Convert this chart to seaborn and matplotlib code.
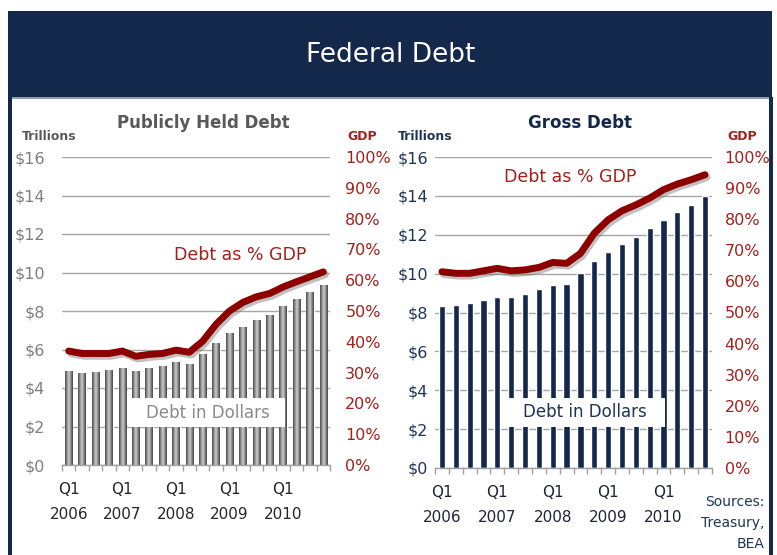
import numpy as np
import pandas as pd
import matplotlib
matplotlib.use("Agg")
import matplotlib.pyplot as plt
import matplotlib.patheffects as pe
from matplotlib.patches import Rectangle
import seaborn as sns

# ---------------- data ----------------
quarters = ["2006Q1", "2006Q2", "2006Q3", "2006Q4",
            "2007Q1", "2007Q2", "2007Q3", "2007Q4",
            "2008Q1", "2008Q2", "2008Q3", "2008Q4",
            "2009Q1", "2009Q2", "2009Q3", "2009Q4",
            "2010Q1", "2010Q2", "2010Q3", "2010Q4"]
tick_positions = [0, 4, 8, 12, 16]
tick_labels = ["Q1\n2006", "Q1\n2007", "Q1\n2008", "Q1\n2009", "Q1\n2010"]
dollar_ticks = [0, 2, 4, 6, 8, 10, 12, 14, 16]
dollar_labels = ["$0", "$2", "$4", "$6", "$8", "$10", "$12", "$14", "$16"]
pct_ticks = [0, 10, 20, 30, 40, 50, 60, 70, 80, 90, 100]
pct_labels = ["0%", "10%", "20%", "30%", "40%", "50%", "60%", "70%", "80%", "90%", "100%"]

public_debt = [4.87, 4.78, 4.83, 4.92, 5.04, 4.90, 5.04, 5.13, 5.34, 5.27,
               5.79, 6.35, 6.87, 7.18, 7.53, 7.81, 8.25, 8.60, 8.97, 9.36]
public_pct = [37.0, 36.2, 36.2, 36.2, 37.0, 35.3, 35.9, 36.2, 37.3, 36.6,
              40.2, 45.7, 50.0, 52.8, 54.6, 55.7, 57.8, 59.5, 61.1, 62.7]
gross_debt = [8.35, 8.40, 8.48, 8.64, 8.81, 8.81, 8.95, 9.19, 9.42, 9.47,
              10.02, 10.63, 11.10, 11.53, 11.89, 12.33, 12.76, 13.17, 13.55, 14.00]
gross_pct = [63.1, 62.6, 62.6, 63.4, 64.2, 63.4, 63.7, 64.5, 66.1, 65.8,
             69.0, 75.5, 79.8, 82.7, 84.6, 86.8, 89.5, 91.3, 92.7, 94.3]

# ---------------- style ----------------
NAVY = "#14284b"
RED_LINE = "#8c0000"
RED_TXT = "#a3201b"
GRID = "#a6a6a6"

sns.set_theme(style="white")
plt.rcParams['font.family'] = ['DejaVu Sans']

W, H = 777, 555
fig = plt.figure(figsize=(7.77, 5.55), dpi=100)
fig.patch.set_facecolor("white")


def fx(x):
    return x / W


def fy(y):
    return 1 - y / H


def frect(x0, y0, x1, y1, color, z=0):
    fig.add_artist(Rectangle((fx(x0), fy(y1)), fx(x1) - fx(x0), fy(y0) - fy(y1),
                             transform=fig.transFigure, facecolor=color,
                             edgecolor="none", zorder=z))


# header band and frame borders
frect(8, 11, 772, 97, NAVY)
frect(8, 97, 772, 99, "#8d9db3")
frect(8, 97, 12, 555, NAVY)
frect(769, 97, 773, 555, NAVY)
fig.text(fx(391), fy(55), "Federal Debt", color="white", fontsize=19,
         ha="center", va="center")


def panel(px0, py0, px1, py1, debt, pct, width, bar_color, gradient,
          ytick_color, xtick_color, ypad, rpad, box, box_text_color):
    ax = fig.add_axes([fx(px0), fy(py1), fx(px1) - fx(px0), fy(py0) - fy(py1)])
    df = pd.DataFrame({"quarter": quarters, "debt": debt})
    sns.barplot(data=df, x="quarter", y="debt", color=bar_color, width=width,
                saturation=1, ax=ax, zorder=2)
    if gradient:
        cmap = matplotlib.colors.LinearSegmentedColormap.from_list(
            "cyl", ["#4a4a4a", "#8f8f8f", "#cfcfcf", "#858585", "#454545"])
        grad = np.linspace(0, 1, 64).reshape(1, -1)
        for p in ax.patches:
            x0, w, h = p.get_x(), p.get_width(), p.get_height()
            im = ax.imshow(grad, cmap=cmap, aspect="auto",
                           extent=(x0, x0 + w, 0, h), zorder=2.1)
            im.set_clip_path(p)
    ax.set_xlim(-0.5, 19.5)
    ax.set_ylim(0, 16)
    ax.set_yticks(dollar_ticks)
    ax.set_yticklabels(dollar_labels)
    ax.grid(axis="y", color=GRID, lw=1)
    ax.grid(axis="x", visible=False)
    ax.set_axisbelow(True)
    for s in ["left", "right", "top"]:
        ax.spines[s].set_visible(False)
    ax.spines["bottom"].set_color("#a0a0a0")
    ax.spines["bottom"].set_linewidth(1)
    ax.set_xticks(tick_positions)
    ax.set_xticklabels(tick_labels)
    for t in ax.get_xticklabels():
        t.set_linespacing(1.85)
    ax.set_xticks(np.arange(-0.5, 20, 1), minor=True)
    ax.tick_params(axis="x", which="major", length=0, pad=12, labelsize=11,
                   colors=xtick_color)
    ax.tick_params(axis="x", which="minor", length=4.5, width=1,
                   color="#a0a0a0", direction="out", bottom=True)
    ax.tick_params(axis="y", length=0, pad=ypad, labelsize=11.5,
                   colors=ytick_color)
    ax.set_xlabel("")
    ax.set_ylabel("")
    ax.patch.set_alpha(0)

    # text box "Debt in Dollars"
    bx0, by0, bx1, by1 = box
    ax.add_patch(Rectangle((bx0, by0), bx1 - bx0, by1 - by0,
                           transform=ax.transAxes, facecolor="white",
                           edgecolor="none", zorder=3))
    ax.text((bx0 + bx1) / 2, (by0 + by1) / 2, "Debt in Dollars",
            transform=ax.transAxes, ha="center", va="center", fontsize=12,
            color=box_text_color, zorder=4)

    ax2 = ax.twinx()
    sns.lineplot(x=np.arange(len(pct)), y=pct, ax=ax2, color=RED_LINE, lw=5,
                 solid_capstyle="round", solid_joinstyle="round",
                 path_effects=[pe.SimpleLineShadow(offset=(1.5, -2),
                                                   shadow_color="#777777",
                                                   alpha=0.45),
                               pe.Normal()])
    ax2.set_ylim(0, 100)
    ax2.set_xlim(-0.5, 19.5)
    ax2.set_yticks(pct_ticks)
    ax2.set_yticklabels(pct_labels)
    ax2.tick_params(axis="y", length=0, pad=rpad, labelsize=11.5,
                    colors=RED_TXT)
    ax2.grid(False)
    for s in ax2.spines.values():
        s.set_visible(False)
    ax2.set_xlabel("")
    ax2.set_ylabel("")
    return ax, ax2


# left panel: publicly held debt
panel(62, 157, 330, 465, public_debt, public_pct, 0.55, "#858585", True,
      "#7f7f7f", "#262626", 12, 11,
      (0.254, 0.123, 0.832, 0.2175), "#8a8a8a")
# right panel: gross debt
panel(435, 157, 712, 468, gross_debt, gross_pct, 0.45, NAVY, False,
      "#1f3556", "#1c2536", 5, 9,
      (0.253, 0.132, 0.830, 0.225), "#1f3556")

# panel titles and axis captions
fig.text(fx(203), fy(123), "Publicly Held Debt", fontsize=12, weight="bold",
         color="#595959", ha="center", va="center")
fig.text(fx(580), fy(123), "Gross Debt", fontsize=12, weight="bold",
         color=NAVY, ha="center", va="center")
fig.text(fx(22), fy(137), "Trillions", fontsize=9, weight="bold",
         color="#595959", ha="left", va="center")
fig.text(fx(398), fy(137), "Trillions", fontsize=9, weight="bold",
         color="#1f3556", ha="left", va="center")
fig.text(fx(347), fy(137), "GDP", fontsize=9, weight="bold",
         color=RED_TXT, ha="left", va="center")
fig.text(fx(727), fy(137), "GDP", fontsize=9, weight="bold",
         color=RED_TXT, ha="left", va="center")
fig.text(fx(240), fy(255), "Debt as % GDP", fontsize=12.5,
         color=RED_TXT, ha="center", va="center")
fig.text(fx(570), fy(177), "Debt as % GDP", fontsize=12.5,
         color=RED_TXT, ha="center", va="center")
fig.text(fx(764), fy(523), "Sources:\nTreasury,\nBEA", fontsize=10,
         color="#1f3556", ha="right", va="center", linespacing=1.6)

fig.savefig("out.png", dpi=100, facecolor="white")
